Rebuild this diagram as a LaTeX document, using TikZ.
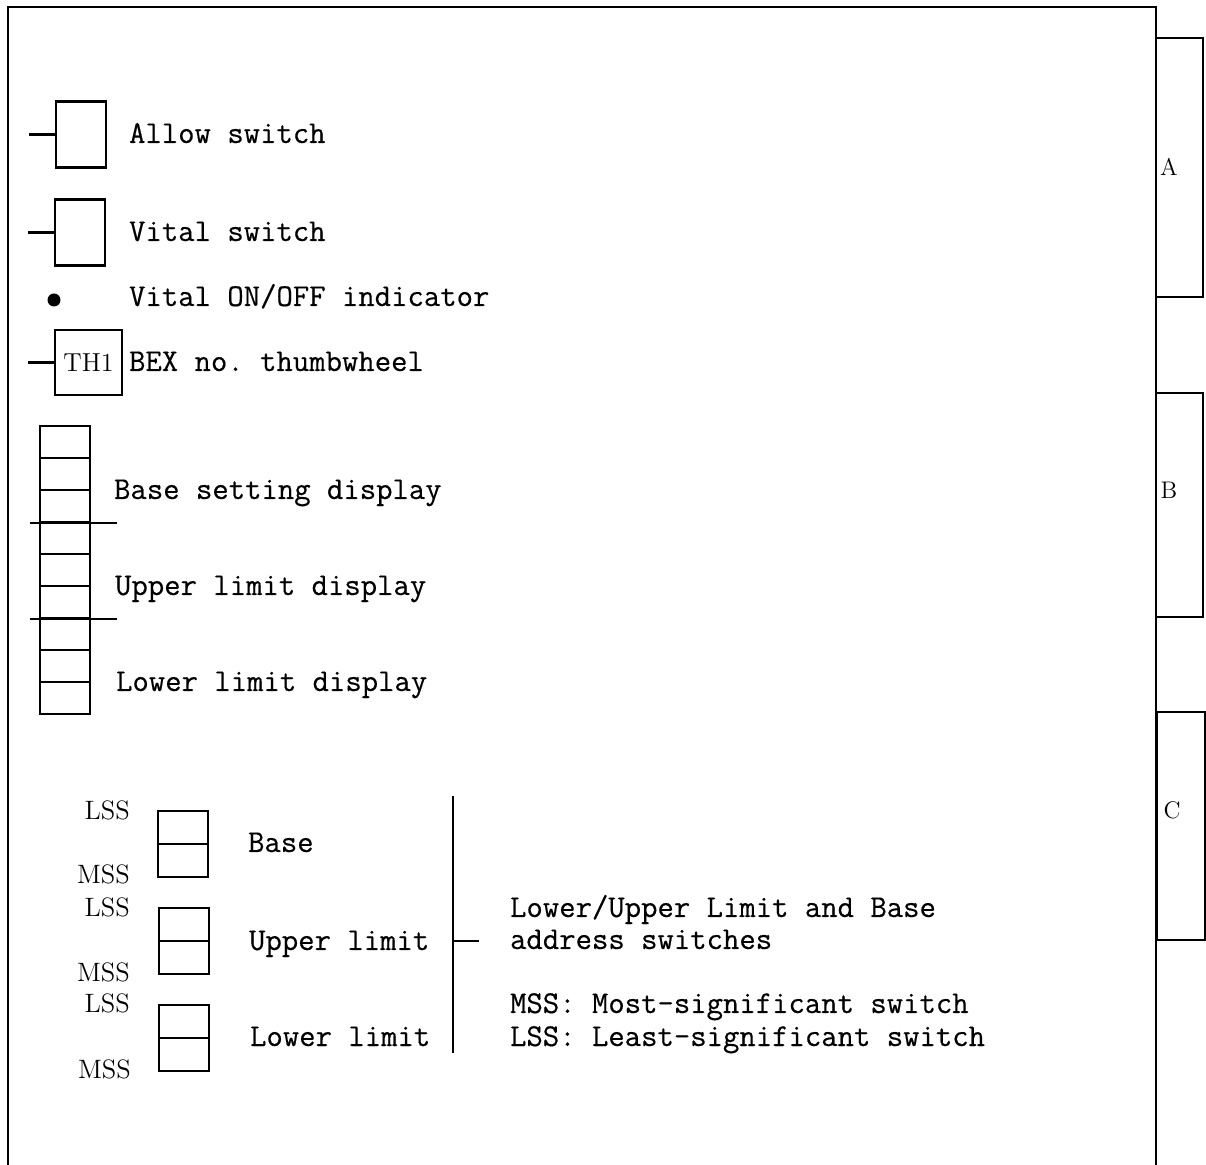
\documentclass[tikz,border=0pt]{standalone}
\usepackage{fontspec}
\setmonofont{Latin Modern Mono}[FakeBold=0.4]
\usetikzlibrary{positioning}

\begin{document}
\begin{tikzpicture}[x=0.5pt,y=-0.5pt,line width=1.1pt,
    swbox/.style={draw,inner sep=0pt,minimum width=25pt,minimum height=33pt},
    cellbox/.style={draw,inner sep=0pt,minimum width=25pt,minimum height=16pt},
    ttlabel/.style={anchor=base west,inner sep=0pt,font=\fontsize{15.9}{16}\selectfont\ttfamily},
    rmlabel/.style={anchor=base east,inner sep=0pt,font=\fontsize{13.3}{14}\selectfont},
    tablabel/.style={inner sep=0pt,font=\fontsize{12}{12}\selectfont}]
  \useasboundingbox (0,0) rectangle (1206,1165);

  % panel outline and tabs
  \draw (8,1165) -- (8,7) -- (1156,7) -- (1156,1165);
  \draw (1156,38) rectangle (1203,297);
  \draw (1156,393) rectangle (1203,617);
  \draw (1157,712) rectangle (1205,940);
  \node[tablabel] (taba) at (1169,167) {A};
  \node[tablabel] (tabb) at (1169,490) {B};
  \node[tablabel] (tabc) at (1172,810) {C};

  % switches and indicator
  \node[swbox] (allow) at (81,134.5) {};
  \draw (allow.west) -- ++(-26,0);
  \node[ttlabel] (allowtxt) at (128,143) {Allow switch};

  \node[swbox] (vital) at (80,232.5) {};
  \draw (vital.west) -- ++(-26,0);
  \node[ttlabel] (vitaltxt) at (128,241) {Vital switch};

  \node[circle,fill,inner sep=0pt,minimum size=6.5pt] (ind) at (54,300) {};
  \node[ttlabel] (indtxt) at (128,306) {Vital ON/OFF indicator};

  \node[draw,inner sep=0pt,minimum width=33.5pt,minimum height=32.5pt,
        font=\fontsize{13}{14}\selectfont] (th1) at (88.5,362.5) {TH1};
  \draw (th1.west) -- ++(-26,0);
  \node[ttlabel] (th1txt) at (128,371) {BEX no. thumbwheel};

  % display column
  \foreach \i in {0,...,8}
    \node[cellbox] (d\i) at (65,442+32*\i) {};
  \draw ([xshift=-4.5pt]d2.south west) -- ([xshift=13pt]d2.south east);
  \draw ([xshift=-4.5pt]d5.south west) -- ([xshift=13pt]d5.south east);
  \node[ttlabel] (basedisp) at (113,499) {Base setting display};
  \node[ttlabel] (upperdisp) at (114,595) {Upper limit display};
  \node[ttlabel] (lowerdisp) at (115,691) {Lower limit display};

  % address switches
  \node[swbox] (base) at (183,844) {};
  \draw (base.west) -- (base.east);
  \node[swbox] (upper) at (184,941) {};
  \draw (upper.west) -- (upper.east);
  \node[swbox] (lower) at (184,1038) {};
  \draw (lower.west) -- (lower.east);

  \node[rmlabel] (lss1) at (131,820) {LSS};
  \node[rmlabel] (mss1) at (131,884) {MSS};
  \node[rmlabel] (lss2) at (131,917) {LSS};
  \node[rmlabel] (mss2) at (131,981) {MSS};
  \node[rmlabel] (lss3) at (131,1013) {LSS};
  \node[rmlabel] (mss3) at (132,1078) {MSS};

  \node[ttlabel] (basetxt) at (247,852) {Base};
  \node[ttlabel] (uppertxt) at (248,950) {Upper limit};
  \node[ttlabel] (lowertxt) at (249,1046) {Lower limit};

  \coordinate (brtop) at (453,796);
  \coordinate (brbot) at (453,1053);
  \coordinate (brmid) at (453,941);
  \draw (brtop) -- (brbot);
  \draw (brmid) -- ++(26,0);

  \node[ttlabel] (note1) at (509,917) {Lower/Upper Limit and Base};
  \node[ttlabel] (note2) at (509,949) {address switches};
  \node[ttlabel] (note3) at (509,1013) {MSS: Most-significant switch};
  \node[ttlabel] (note4) at (509,1046) {LSS: Least-significant switch};
\end{tikzpicture}
\end{document}
